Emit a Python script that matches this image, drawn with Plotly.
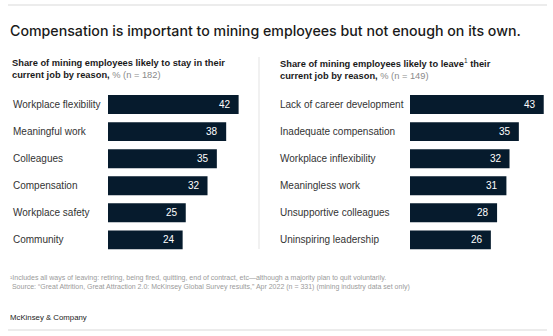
import plotly.graph_objects as go

W, H = 553, 336

stay_reasons = ["Workplace flexibility", "Meaningful work", "Colleagues",
                "Compensation", "Workplace safety", "Community"]
stay_values = [42, 38, 35, 32, 25, 24]

leave_reasons = ["Lack of career development", "Inadequate compensation",
                 "Workplace inflexibility", "Meaningless work",
                 "Unsupportive colleagues", "Uninspiring leadership"]
leave_values = [43, 35, 32, 31, 28, 26]

title_text = "Compensation is important to mining employees but not enough on its own."
sub_left = ("<b>Share of mining employees likely to stay in their<br>current job by reason,</b>"
            " <span style='color:#8a8a8a'>% (n = 182)</span>")
sub_right = ("<b>Share of mining employees likely to leave</b><sup>1</sup><b> their<br>current job by reason,</b>"
             " <span style='color:#8a8a8a'>% (n = 149)</span>")
foot1 = "¹Includes all ways of leaving: retiring, being fired, quitting, end of contract, etc—although a majority plan to quit voluntarily."
foot2 = " Source: \u201cGreat Attrition, Great Attraction 2.0: McKinsey Global Survey results,\u201d Apr 2022 (n = 331) (mining industry data set only)"
brand = "McKinsey & Company"

BAR = "#061b2d"
FONT = "Liberation Sans, Arial, sans-serif"
PXU = 3.11  # pixels per percentage point


def px(x):
    return x / W


def py(y):
    return 1 - y / H


left_x0, left_x1 = 108, 259
right_x0, right_x1 = 410, 553
y_top, y_bot = 91, 253.4

fig = go.Figure()
fig.add_trace(go.Bar(x=stay_values, y=stay_reasons, orientation="h",
                     marker=dict(color=BAR, line=dict(width=0)), width=0.7,
                     xaxis="x", yaxis="y", hoverinfo="skip"))
fig.add_trace(go.Bar(x=leave_values, y=leave_reasons, orientation="h",
                     marker=dict(color=BAR, line=dict(width=0)), width=0.7,
                     xaxis="x2", yaxis="y2", hoverinfo="skip"))

ax_common = dict(showgrid=False, zeroline=False, showline=False, showticklabels=False, ticks="", fixedrange=True)
fig.update_layout(
    width=W, height=H,
    margin=dict(l=0, r=0, t=0, b=0),
    paper_bgcolor="white", plot_bgcolor="white",
    showlegend=False,
    font=dict(family=FONT, color="#333333"),
    xaxis=dict(domain=[px(left_x0), px(left_x1)], range=[0, (left_x1 - left_x0) / PXU], anchor="y", **ax_common),
    xaxis2=dict(domain=[px(right_x0), px(right_x1)], range=[0, (right_x1 - right_x0) / PXU], anchor="y2", **ax_common),
    yaxis=dict(domain=[py(y_bot), py(y_top)], range=[5.5, -0.5], type="category",
               categoryorder="array", categoryarray=stay_reasons, anchor="x", **ax_common),
    yaxis2=dict(domain=[py(y_bot), py(y_top)], range=[5.5, -0.5], type="category",
                categoryorder="array", categoryarray=leave_reasons, anchor="x2", **ax_common),
)

ann = []
for r, v in zip(stay_reasons, stay_values):
    ann.append(dict(x=px(11), xref="paper", y=r, yref="y", text=r, showarrow=False,
                    xanchor="left", yanchor="middle", font=dict(size=10, color="#333333")))
    ann.append(dict(x=v, xref="x", y=r, yref="y", text=str(v), showarrow=False,
                    xanchor="right", yanchor="middle", xshift=-6, font=dict(size=10, color="white")))
for r, v in zip(leave_reasons, leave_values):
    ann.append(dict(x=px(278), xref="paper", y=r, yref="y2", text=r, showarrow=False,
                    xanchor="left", yanchor="middle", font=dict(size=10, color="#333333")))
    ann.append(dict(x=v, xref="x2", y=r, yref="y2", text=str(v), showarrow=False,
                    xanchor="right", yanchor="middle", xshift=-6, font=dict(size=10, color="white")))

ann.append(dict(x=px(8), y=py(30), xref="paper", yref="paper", text=title_text, showarrow=False,
                xanchor="left", yanchor="middle",
                font=dict(family="Inter, sans-serif", size=14.2, color="#1a1a1a", weight=500)))
ann.append(dict(x=px(10), y=py(68.5), xref="paper", yref="paper", text=sub_left, showarrow=False,
                xanchor="left", yanchor="middle", align="left",
                font=dict(size=9.3, color="#1a1a1a")))
ann.append(dict(x=px(278), y=py(68.5), xref="paper", yref="paper", text=sub_right, showarrow=False,
                xanchor="left", yanchor="middle", align="left",
                font=dict(size=9.3, color="#1a1a1a")))
ann.append(dict(x=px(8), y=py(278), xref="paper", yref="paper", text=foot1, showarrow=False,
                xanchor="left", yanchor="middle", font=dict(size=7, color="#9a9a9a")))
ann.append(dict(x=px(8), y=py(287), xref="paper", yref="paper", text=foot2, showarrow=False,
                xanchor="left", yanchor="middle", font=dict(size=7, color="#9a9a9a")))
ann.append(dict(x=px(8), y=py(317), xref="paper", yref="paper", text=brand, showarrow=False,
                xanchor="left", yanchor="middle", font=dict(size=7.8, color="#222222")))
fig.update_layout(annotations=ann)

shapes = [
    dict(type="line", xref="paper", yref="paper", x0=px(8), x1=px(547), y0=py(5), y1=py(5),
         line=dict(color="#d9d9d9", width=1.2)),
    dict(type="line", xref="paper", yref="paper", x0=px(8), x1=px(547), y0=py(330), y1=py(330),
         line=dict(color="#d9d9d9", width=1.2)),
    dict(type="line", xref="paper", yref="paper", x0=px(259), x1=px(259), y0=py(57), y1=py(249),
         line=dict(color="#e3e3e3", width=1)),
]
fig.update_layout(shapes=shapes)

fig.write_html("out.html")
